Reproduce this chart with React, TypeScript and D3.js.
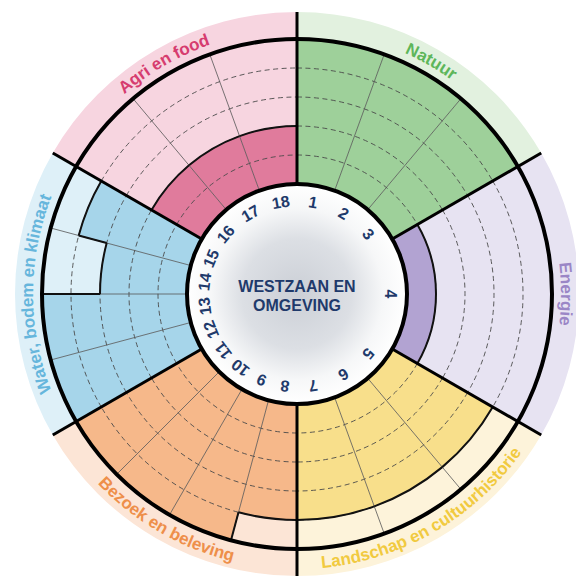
import React, { useEffect, useRef } from 'react';
import * as d3 from 'd3';

const WIDTH = 576;
const HEIGHT = 577;
const CX = 297;
const CY = 294;
const HUB_R = 110;
const CHART_R = 255;
const BAND_R = 282;

const THEMES = ["Natuur", "Energie", "Landschap en cultuurhistorie", "Bezoek en beleving", "Water, bodem en klimaat", "Agri en food"];
const INDICATOR_COUNTS = [3, 1, 3, 4, 4, 3];
const INDICATOR_LABELS = ["1", "2", "3", "4", "5", "6", "7", "8", "9", "10", "11", "12", "13", "14", "15", "16", "17", "18"];
const SCORES = [5, 5, 5, 1, 4, 4, 4, 4, 5, 5, 5, 5, 5, 3, 4, 2, 2, 2];
const MAX_SCORE = 5;
const TITLE = ["WESTZAAN EN", "OMGEVING"];

const FILL_COLORS = ["#9ed09a", "#b2a3d2", "#f8df8b", "#f6b88a", "#a6d5ea", "#e07b9c"];
const LIGHT_COLORS = ["#e2f1df", "#e7e3f2", "#fdf3da", "#fce5d6", "#def0f8", "#f7d5e0"];
const LABEL_COLORS = ["#5db65a", "#9a86c6", "#f1ca3f", "#ee8f4a", "#66b6dc", "#d63c6f"];

const FONT = "'Liberation Sans', Arial, sans-serif";
const NAVY = "#1f3a6b";

export default function App() {
    const svgRef = useRef(null);

    useEffect(() => {
        if (!svgRef.current) return;
        const svg = d3.select(svgRef.current);

        const themeAngle = d3.scaleLinear().domain([0, THEMES.length]).range([0, 2 * Math.PI]);
        const r = d3.scaleLinear().domain([0, MAX_SCORE]).range([HUB_R, CHART_R]);

        // build the indicators from the counts per theme
        const indicators = [];
        let k = 0;
        INDICATOR_COUNTS.forEach((n, t) => {
            const sub = d3.scaleLinear().domain([0, n]).range([themeAngle(t), themeAngle(t + 1)]);
            for (let i = 0; i < n; i++) {
                indicators.push({ theme: t, start: sub(i), end: sub(i + 1), score: SCORES[k], label: INDICATOR_LABELS[k], first: i === 0 });
                k++;
            }
        });

        const pt = (a, rad) => [rad * Math.sin(a), -rad * Math.cos(a)];
        const arcLine = (rad, a0, a1) => {
            const p = d3.path();
            const [x, y] = pt(a0, rad);
            p.moveTo(x, y);
            p.arc(0, 0, rad, a0 - Math.PI / 2, a1 - Math.PI / 2, a1 < a0);
            return p.toString();
        };
        const radial = (a, r0, r1) => {
            const [x0, y0] = pt(a, r0);
            const [x1, y1] = pt(a, r1);
            return `M${x0},${y0}L${x1},${y1}`;
        };

        const defs = svg.append("defs");
        const grad = defs.append("radialGradient").attr("id", "hubGrad");
        grad.append("stop").attr("offset", "0%").attr("stop-color", "#cbcfd6");
        grad.append("stop").attr("offset", "50%").attr("stop-color", "#dcdfe4");
        grad.append("stop").attr("offset", "78%").attr("stop-color", "#f6f7f8");
        grad.append("stop").attr("offset", "100%").attr("stop-color", "#ffffff");

        const g = svg.append("g").attr("transform", `translate(${CX},${CY})`);
        const arc = d3.arc();

        // light background + outer band per theme
        g.selectAll(".bg")
            .data(THEMES)
            .join("path")
            .attr("class", "bg")
            .attr("d", (_, t) => arc({ innerRadius: HUB_R, outerRadius: BAND_R, startAngle: themeAngle(t), endAngle: themeAngle(t + 1) }))
            .attr("fill", (_, t) => LIGHT_COLORS[t]);

        // filled scores
        g.selectAll(".score")
            .data(indicators)
            .join("path")
            .attr("class", "score")
            .attr("d", d => arc({ innerRadius: HUB_R, outerRadius: r(d.score), startAngle: d.start, endAngle: d.end }))
            .attr("fill", d => FILL_COLORS[d.theme]);

        // dashed level rings
        const levels = d3.range(1, MAX_SCORE);
        THEMES.forEach((_, t) => {
            g.selectAll(null)
                .data(levels)
                .join("path")
                .attr("d", l => arcLine(r(l), themeAngle(t), themeAngle(t + 1)))
                .attr("fill", "none")
                .attr("stroke", "#4a4a4a")
                .attr("stroke-width", 0.9)
                .attr("stroke-dasharray", "5,3.5");
        });

        // thin separators between indicators
        g.selectAll(".sep")
            .data(indicators.filter(d => !d.first))
            .join("path")
            .attr("class", "sep")
            .attr("d", d => radial(d.start, HUB_R, CHART_R))
            .attr("stroke", "#555")
            .attr("stroke-width", 0.8);

        // outline of the scores
        g.selectAll(".edge")
            .data(indicators.filter(d => d.score < MAX_SCORE))
            .join("path")
            .attr("class", "edge")
            .attr("d", d => arcLine(r(d.score), d.start, d.end))
            .attr("fill", "none")
            .attr("stroke", "#111")
            .attr("stroke-width", 2);
        const steps = indicators.filter((d, i) => !d.first && indicators[i - 1].score !== d.score)
            .map(d => ({ a: d.start, s0: indicators[indicators.indexOf(d) - 1].score, s1: d.score }));
        g.selectAll(".step")
            .data(steps)
            .join("path")
            .attr("class", "step")
            .attr("d", d => radial(d.a, r(d.s0), r(d.s1)))
            .attr("stroke", "#111")
            .attr("stroke-width", 2);

        // outer ring
        g.append("circle")
            .attr("r", CHART_R)
            .attr("fill", "none")
            .attr("stroke", "#000")
            .attr("stroke-width", 4);

        // theme borders
        g.selectAll(".border")
            .data(THEMES)
            .join("path")
            .attr("class", "border")
            .attr("d", (_, t) => radial(themeAngle(t), HUB_R, BAND_R))
            .attr("stroke", "#000")
            .attr("stroke-width", 3);

        // hub
        g.append("circle")
            .attr("r", HUB_R)
            .attr("fill", "url(#hubGrad)")
            .attr("stroke", "#000")
            .attr("stroke-width", 4);

        g.selectAll(".num")
            .data(indicators)
            .join("text")
            .attr("class", "num")
            .attr("transform", d => {
                const m = (d.start + d.end) / 2;
                const [x, y] = pt(m, 93);
                return `translate(${x},${y}) rotate(${m * 180 / Math.PI})`;
            })
            .attr("text-anchor", "middle")
            .attr("dominant-baseline", "central")
            .attr("font-family", FONT)
            .attr("font-weight", "bold")
            .attr("font-size", 16)
            .attr("fill", NAVY)
            .text(d => d.label);

        g.selectAll(".title")
            .data(TITLE)
            .join("text")
            .attr("class", "title")
            .attr("y", (_, i) => -2 + i * 19)
            .attr("text-anchor", "middle")
            .attr("font-family", FONT)
            .attr("font-weight", "bold")
            .attr("font-size", 16)
            .attr("fill", NAVY)
            .text(d => d);

        // curved theme labels in the outer band
        THEMES.forEach((name, t) => {
            const c = (themeAngle(t) + themeAngle(t + 1)) / 2;
            const bottom = c > Math.PI / 2 + 0.1 && c < 3 * Math.PI / 2 - 0.1;
            const half = 0.75;
            const d = bottom ? arcLine(275, c + half, c - half) : arcLine(264, c - half, c + half);
            defs.append("path").attr("id", `lbl${t}`).attr("d", d);
            g.append("text")
                .attr("font-family", FONT)
                .attr("font-weight", "bold")
                .attr("font-size", 17)
                .attr("fill", LABEL_COLORS[t])
                .append("textPath")
                .attr("href", `#lbl${t}`)
                .attr("startOffset", "50%")
                .attr("text-anchor", "middle")
                .text(name);
        });

        return () => {
            svg.selectAll("*").remove();
        };
    }, []);

    return (
        <svg ref={svgRef} width={WIDTH} height={HEIGHT}
            style={{ position: "absolute", left: 0, top: 0, background: "#fff" }} />
    );
}
